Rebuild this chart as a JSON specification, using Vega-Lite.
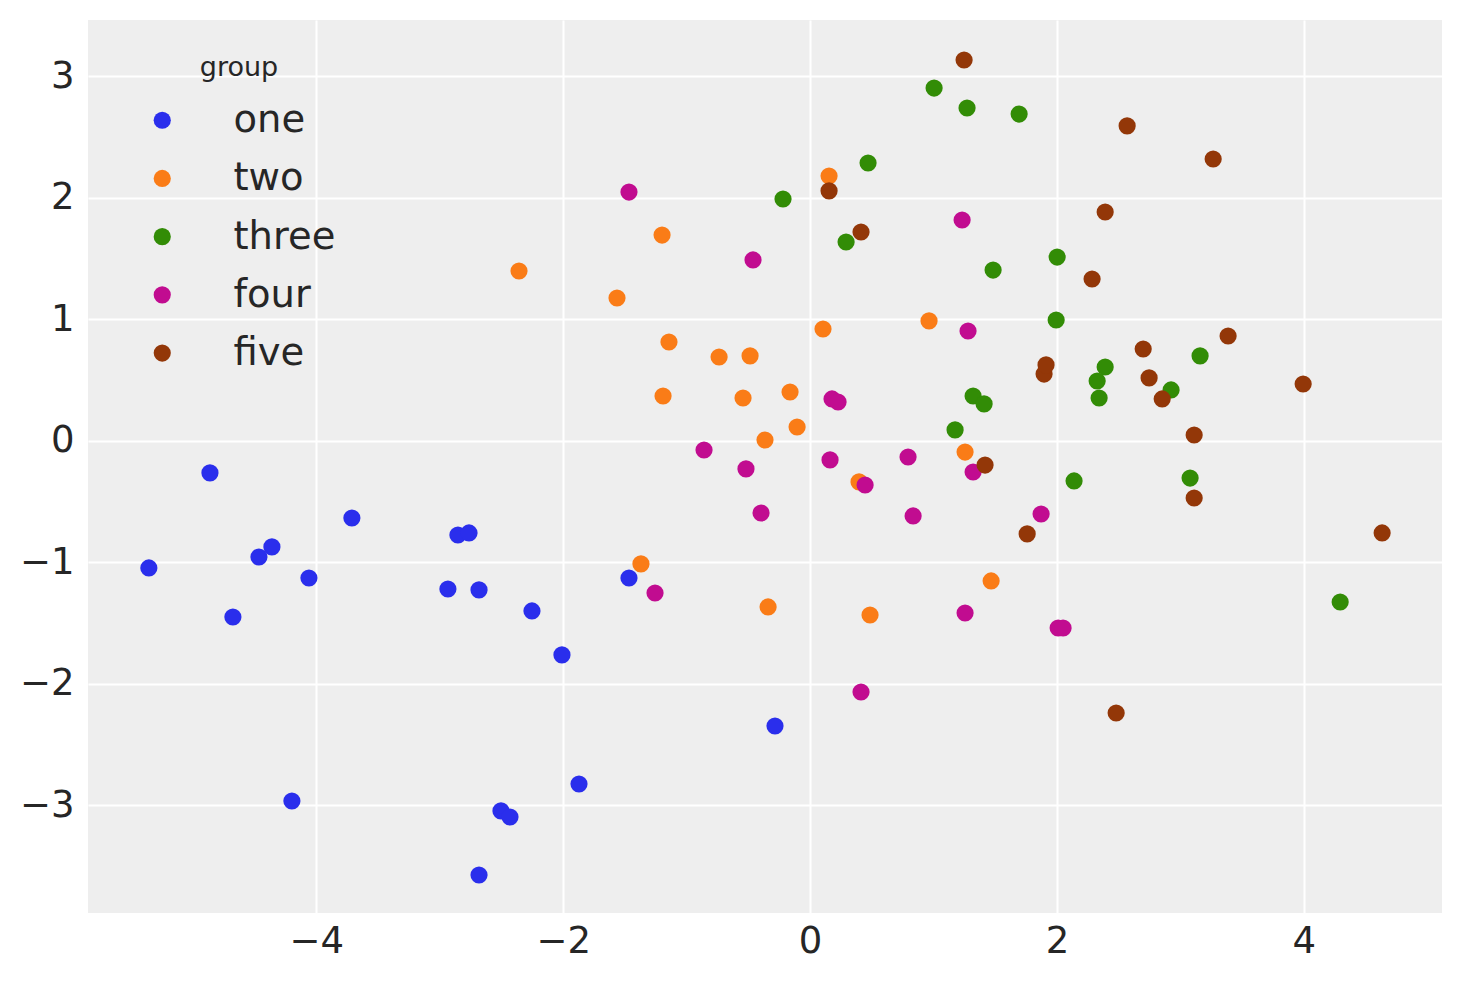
{
  "$schema": "https://vega.github.io/schema/vega-lite/v6.json",
  "autosize": {"type": "none"},
  "padding": {"left": 88, "top": 20, "right": 21, "bottom": 70},
  "width": 1354,
  "height": 893,
  "background": "white",
  "config": {
    "view": {"fill": "#eeeeee", "stroke": null},
    "font": "DejaVu Sans",
    "axis": {
      "domain": false,
      "ticks": false,
      "grid": true,
      "gridColor": "white",
      "gridWidth": 2,
      "gridOpacity": 1,
      "labelFont": "DejaVu Sans",
      "labelFontSize": 37,
      "labelColor": "#262626",
      "title": null
    }
  },
  "data": {
    "values": [
      {"x": -5.357, "y": -1.045, "group": "one"},
      {"x": -4.862, "y": -0.263, "group": "one"},
      {"x": -4.676, "y": -1.449, "group": "one"},
      {"x": -4.465, "y": -0.955, "group": "one"},
      {"x": -4.360, "y": -0.872, "group": "one"},
      {"x": -4.198, "y": -2.963, "group": "one"},
      {"x": -4.060, "y": -1.128, "group": "one"},
      {"x": -3.712, "y": -0.634, "group": "one"},
      {"x": -2.934, "y": -1.218, "group": "one"},
      {"x": -2.853, "y": -0.774, "group": "one"},
      {"x": -2.763, "y": -0.757, "group": "one"},
      {"x": -2.682, "y": -1.226, "group": "one"},
      {"x": -2.682, "y": -3.572, "group": "one"},
      {"x": -2.504, "y": -3.045, "group": "one"},
      {"x": -2.431, "y": -3.095, "group": "one"},
      {"x": -2.253, "y": -1.399, "group": "one"},
      {"x": -2.010, "y": -1.761, "group": "one"},
      {"x": -1.872, "y": -2.823, "group": "one"},
      {"x": -1.467, "y": -1.128, "group": "one"},
      {"x": -0.284, "y": -2.346, "group": "one"},

      {"x": -2.358, "y": 1.399, "group": "two"},
      {"x": -1.564, "y": 1.177, "group": "two"},
      {"x": -1.199, "y": 1.695, "group": "two"},
      {"x": -1.191, "y": 0.370, "group": "two"},
      {"x": -1.143, "y": 0.815, "group": "two"},
      {"x": -1.370, "y": -1.012, "group": "two"},
      {"x": -0.737, "y": 0.691, "group": "two"},
      {"x": -0.543, "y": 0.354, "group": "two"},
      {"x": -0.486, "y": 0.700, "group": "two"},
      {"x": -0.365, "y": 0.008, "group": "two"},
      {"x": -0.340, "y": -1.366, "group": "two"},
      {"x": -0.162, "y": 0.403, "group": "two"},
      {"x": -0.105, "y": 0.115, "group": "two"},
      {"x": 0.105, "y": 0.922, "group": "two"},
      {"x": 0.154, "y": 2.181, "group": "two"},
      {"x": 0.397, "y": -0.337, "group": "two"},
      {"x": 0.486, "y": -1.432, "group": "two"},
      {"x": 0.964, "y": 0.988, "group": "two"},
      {"x": 1.256, "y": -0.091, "group": "two"},
      {"x": 1.467, "y": -1.152, "group": "two"},

      {"x": -0.219, "y": 1.992, "group": "three"},
      {"x": 0.292, "y": 1.638, "group": "three"},
      {"x": 0.470, "y": 2.288, "group": "three"},
      {"x": 1.005, "y": 2.905, "group": "three"},
      {"x": 1.175, "y": 0.091, "group": "three"},
      {"x": 1.272, "y": 2.741, "group": "three"},
      {"x": 1.321, "y": 0.370, "group": "three"},
      {"x": 1.410, "y": 0.305, "group": "three"},
      {"x": 1.483, "y": 1.407, "group": "three"},
      {"x": 1.694, "y": 2.691, "group": "three"},
      {"x": 1.994, "y": 0.996, "group": "three"},
      {"x": 2.002, "y": 1.514, "group": "three"},
      {"x": 2.139, "y": -0.329, "group": "three"},
      {"x": 2.326, "y": 0.494, "group": "three"},
      {"x": 2.342, "y": 0.354, "group": "three"},
      {"x": 2.391, "y": 0.609, "group": "three"},
      {"x": 2.925, "y": 0.420, "group": "three"},
      {"x": 3.079, "y": -0.305, "group": "three"},
      {"x": 3.160, "y": 0.700, "group": "three"},
      {"x": 4.295, "y": -1.325, "group": "three"},

      {"x": -1.467, "y": 2.049, "group": "four"},
      {"x": -1.256, "y": -1.251, "group": "four"},
      {"x": -0.859, "y": -0.074, "group": "four"},
      {"x": -0.519, "y": -0.230, "group": "four"},
      {"x": -0.462, "y": 1.490, "group": "four"},
      {"x": -0.397, "y": -0.593, "group": "four"},
      {"x": 0.162, "y": -0.156, "group": "four"},
      {"x": 0.178, "y": 0.346, "group": "four"},
      {"x": 0.227, "y": 0.321, "group": "four"},
      {"x": 0.413, "y": -2.066, "group": "four"},
      {"x": 0.446, "y": -0.362, "group": "four"},
      {"x": 0.794, "y": -0.132, "group": "four"},
      {"x": 0.835, "y": -0.617, "group": "four"},
      {"x": 1.232, "y": 1.819, "group": "four"},
      {"x": 1.256, "y": -1.416, "group": "four"},
      {"x": 1.280, "y": 0.905, "group": "four"},
      {"x": 1.321, "y": -0.255, "group": "four"},
      {"x": 1.872, "y": -0.601, "group": "four"},
      {"x": 2.010, "y": -1.539, "group": "four"},
      {"x": 2.050, "y": -1.539, "group": "four"},

      {"x": 1.248, "y": 3.136, "group": "five"},
      {"x": 0.154, "y": 2.058, "group": "five"},
      {"x": 0.413, "y": 1.720, "group": "five"},
      {"x": 1.418, "y": -0.198, "group": "five"},
      {"x": 1.759, "y": -0.765, "group": "five"},
      {"x": 1.896, "y": 0.551, "group": "five"},
      {"x": 1.912, "y": 0.626, "group": "five"},
      {"x": 2.285, "y": 1.333, "group": "five"},
      {"x": 2.391, "y": 1.885, "group": "five"},
      {"x": 2.480, "y": -2.239, "group": "five"},
      {"x": 2.569, "y": 2.593, "group": "five"},
      {"x": 2.699, "y": 0.757, "group": "five"},
      {"x": 2.747, "y": 0.519, "group": "five"},
      {"x": 2.853, "y": 0.346, "group": "five"},
      {"x": 3.112, "y": 0.049, "group": "five"},
      {"x": 3.112, "y": -0.469, "group": "five"},
      {"x": 3.266, "y": 2.321, "group": "five"},
      {"x": 3.387, "y": 0.864, "group": "five"},
      {"x": 3.995, "y": 0.469, "group": "five"},
      {"x": 4.635, "y": -0.757, "group": "five"}
    ]
  },
  "mark": {"type": "circle", "size": 295, "opacity": 1},
  "encoding": {
    "x": {
      "field": "x",
      "type": "quantitative",
      "scale": {"domain": [-5.85, 5.12], "nice": false, "zero": false},
      "axis": {"values": [-4, -2, 0, 2, 4], "labelPadding": 10, "format": "d"}
    },
    "y": {
      "field": "y",
      "type": "quantitative",
      "scale": {"domain": [-3.885, 3.465], "nice": false, "zero": false},
      "axis": {"values": [-3, -2, -1, 0, 1, 2, 3], "labelPadding": 14, "format": "d"}
    },
    "color": {
      "field": "group",
      "type": "nominal",
      "sort": ["one", "two", "three", "four", "five"],
      "scale": {
        "domain": ["one", "two", "three", "four", "five"],
        "range": ["#2a2eec", "#fa7c17", "#328c06", "#c10c90", "#933708"]
      },
      "legend": {
        "title": "group",
        "orient": "none",
        "legendX": 55,
        "legendY": 35,
        "titleFont": "DejaVu Sans",
        "titleFontSize": 27,
        "titleFontWeight": "normal",
        "titleColor": "#262626",
        "titleAnchor": "middle",
        "titlePadding": 19,
        "labelFont": "DejaVu Sans",
        "labelFontSize": 38.5,
        "labelColor": "#262626",
        "labelOffset": 52,
        "symbolType": "circle",
        "symbolSize": 295,
        "symbolStrokeWidth": 0,
        "symbolOpacity": 1,
        "rowPadding": 19.2
      }
    }
  }
}
